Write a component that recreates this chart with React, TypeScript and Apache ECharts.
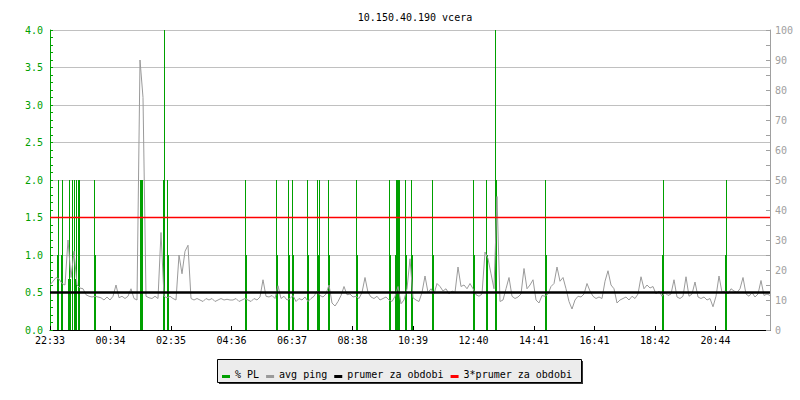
import React, { useEffect, useRef } from 'react';
import * as echarts from 'echarts';

const TITLE = '10.150.40.190 vcera';
const X_LABELS = ['22:33', '00:34', '02:35', '04:36', '06:37', '08:38', '10:39', '12:40', '14:41', '16:41', '18:42', '20:44'];
const X_LABEL_STEP = 121; // minutes between time labels
const SPAN_MIN = 1440; // minutes shown
const Y_LEFT_TICKS = [0, 4, 0.5];
const Y_RIGHT_TICKS = [0, 100, 10];

// avg ping (ms), one sample every 6 minutes
const PING_STEP = 6;
const PING = [
  0.60, 0.65, 0.70, 0.68, 0.62, 0.60, 1.20, 0.70, 1.05, 0.60,
  0.56, 0.55, 0.47, 0.45, 0.44, 0.45, 0.44, 0.43, 0.40, 0.44,
  0.40, 0.45, 0.60, 0.43, 0.45, 0.42, 0.45, 0.55, 0.42, 0.40,
  3.60, 3.10, 0.45, 0.43, 0.42, 0.45, 0.42, 1.30, 0.45, 0.43,
  0.45, 0.42, 0.40, 1.00, 0.75, 1.05, 1.13, 0.42, 0.40, 0.42,
  0.40, 0.38, 0.42, 0.40, 0.42, 0.38, 0.40, 0.42, 0.40, 0.41,
  0.40, 0.40, 0.42, 0.38, 0.40, 0.42, 0.40, 0.38, 0.42, 0.40,
  0.44, 0.67, 0.45, 0.44, 0.46, 0.42, 0.59, 0.42, 0.45, 0.40,
  0.42, 0.46, 0.38, 0.42, 0.40, 0.44, 0.38, 0.42, 0.45, 0.52,
  0.46, 0.44, 0.48, 0.60, 0.36, 0.32, 0.38, 0.46, 0.58, 0.47,
  0.48, 0.44, 0.45, 0.42, 0.50, 0.70, 0.50, 0.44, 0.42, 0.45,
  0.40, 0.42, 0.44, 0.40, 0.38, 0.45, 0.58, 0.35, 0.40, 0.55,
  0.95, 0.43, 0.40, 0.38, 0.50, 0.72, 0.50, 0.55, 0.48, 0.62,
  0.58, 0.52, 0.55, 0.48, 0.52, 0.50, 0.84, 0.58, 0.60, 0.55,
  0.62, 0.55, 0.47, 0.45, 0.48, 1.04, 0.95, 0.75, 0.55, 1.78,
  0.38, 0.40, 0.55, 0.70, 0.45, 0.42, 0.44, 0.48, 0.82, 0.55,
  0.60, 0.67, 0.40, 0.36, 0.46, 0.45, 0.48, 0.58, 0.62, 0.84,
  0.65, 0.70, 0.55, 0.38, 0.28, 0.40, 0.45, 0.44, 0.48, 0.62,
  0.52, 0.45, 0.42, 0.44, 0.42, 0.65, 0.79, 0.60, 0.55, 0.36,
  0.40, 0.42, 0.44, 0.40, 0.45, 0.42, 0.48, 0.71, 0.55, 0.60,
  0.56, 0.58, 0.48, 0.52, 0.45, 0.50, 0.46, 0.48, 0.67, 0.44,
  0.42, 0.45, 0.71, 0.45, 0.48, 0.64, 0.44, 0.42, 0.44, 0.40,
  0.42, 0.31, 0.45, 0.72, 0.50, 0.52, 0.48, 0.55, 0.52, 0.50,
  0.55, 0.70, 0.48, 0.45, 0.50, 0.44, 0.48, 0.66, 0.46, 0.48,
  0.46,
];

// packet loss samples: minute offset and % lost
const PL_TIMES = [
  15, 17, 23, 25, 37, 39, 41, 45, 49, 51, 53, 57, 59, 89, 91,
  181, 183, 185, 227, 229, 235, 237,
  391, 393, 453, 455, 477, 479, 485, 487, 515, 517, 535, 537, 539, 557, 559,
  613, 615, 679, 681, 691, 693, 695, 697, 699, 711, 713, 723, 725,
  765, 767, 847, 849, 873, 875, 891, 893, 991, 993,
  1225, 1227, 1351, 1353,
];
const PL_VALUES = [
  25, 50, 25, 50, 17, 50, 17, 50, 50, 17, 50, 50, 50, 50, 25,
  50, 50, 50, 50, 100, 50, 25,
  50, 25, 50, 25, 50, 25, 50, 25, 50, 25, 50, 25, 50, 50, 25,
  50, 25, 50, 25, 25, 50, 50, 50, 50, 50, 25, 50, 25,
  50, 25, 50, 25, 50, 25, 100, 50, 50, 25,
  25, 50, 25, 50,
];

const PRUMER = 0.5; // average ping over the period
const LEGEND_NAMES = ['% PL', 'avg ping', 'prumer za obdobi', '3*prumer za obdobi'];

const GREEN = '#00a000';
const GREY = '#9a9a9a';
const AXIS_GREY = '#a0a0a0';
const GRID_GREY = '#c0c0c0';
const FONT = "'DejaVu Sans Mono', monospace";
const ICON = 'path://M0,0h0.01v0.01h-0.01z M0,6h8v3h-8z M0,9.99h0.01v0.01h-0.01z';

export default function App() {
  const ref = useRef<HTMLDivElement>(null);

  useEffect(() => {
    if (!ref.current) return;
    const chart = echarts.init(ref.current, undefined, { renderer: 'svg' });
    const option: any = {
      animation: false,
      backgroundColor: '#ffffff',
      title: {
        text: TITLE,
        left: 410,
        top: 7,
        textAlign: 'center',
        textStyle: { fontFamily: FONT, fontSize: 10, fontWeight: 'normal', color: '#000' },
      },
      grid: { left: 50, right: 30, top: 30, bottom: 70, containLabel: false },
      legend: {
        data: LEGEND_NAMES.map((n) => ({ name: n, icon: ICON })),
        left: 222,
        top: 369,
        orient: 'horizontal',
        itemWidth: 8,
        itemHeight: 10,
        itemGap: 7,
        padding: 0,
        selectedMode: false,
        itemStyle: { borderWidth: 0 },
        textStyle: { fontFamily: FONT, fontSize: 10, color: '#000' },
        z: 10,
      },
      graphic: [
        { type: 'rect', z: 0, shape: { x: 219, y: 361, width: 364, height: 23 }, style: { fill: '#333' } },
        { type: 'rect', z: 1, shape: { x: 217.5, y: 359.5, width: 364, height: 23 }, style: { fill: '#ececec', stroke: '#000', lineWidth: 1 } },
      ],
      xAxis: {
        type: 'value',
        min: 0,
        max: SPAN_MIN,
        interval: X_LABEL_STEP,
        axisLine: { show: true, onZero: false, lineStyle: { color: '#000', width: 1 } },
        axisTick: { show: true, inside: true, length: 4, lineStyle: { color: '#000' } },
        splitLine: { show: false },
        axisLabel: {
          color: '#000',
          fontFamily: FONT,
          fontSize: 10,
          margin: 5,
          showMaxLabel: false,
          hideOverlap: false,
          formatter: (v: number) => {
            const i = Math.round(v / X_LABEL_STEP);
            if (Math.abs(v - i * X_LABEL_STEP) > 0.01) return '';
            return X_LABELS[i] ?? '';
          },
        },
      },
      yAxis: [
        {
          type: 'value',
          position: 'left',
          min: Y_LEFT_TICKS[0],
          max: Y_LEFT_TICKS[1],
          interval: Y_LEFT_TICKS[2],
          axisLine: { show: true, lineStyle: { color: GREEN } },
          axisTick: { show: true, inside: true, length: 3, lineStyle: { color: GREEN } },
          minorTick: { show: true, splitNumber: 5, length: 3, lineStyle: { color: GREEN } },
          splitLine: { show: true, lineStyle: { color: GRID_GREY, width: 1 } },
          axisLabel: { color: GREEN, fontFamily: FONT, fontSize: 10, margin: 7, formatter: (v: number) => v.toFixed(1) },
        },
        {
          type: 'value',
          position: 'right',
          min: Y_RIGHT_TICKS[0],
          max: Y_RIGHT_TICKS[1],
          interval: Y_RIGHT_TICKS[2],
          axisLine: { show: true, lineStyle: { color: AXIS_GREY } },
          axisTick: { show: true, inside: true, length: 4, lineStyle: { color: AXIS_GREY } },
          minorTick: { show: true, splitNumber: 2, length: 4, lineStyle: { color: AXIS_GREY } },
          splitLine: { show: false },
          axisLabel: { color: AXIS_GREY, fontFamily: FONT, fontSize: 10, margin: 5 },
        },
      ],
      series: [
        {
          name: '% PL',
          type: 'bar',
          yAxisIndex: 1,
          barWidth: 1,
          data: PL_TIMES.map((t, i) => [t, PL_VALUES[i]]),
          itemStyle: { color: GREEN },
          z: 2,
        },
        {
          name: 'avg ping',
          type: 'line',
          yAxisIndex: 0,
          symbol: 'none',
          data: PING.map((v, i) => [i * PING_STEP, v]),
          lineStyle: { color: GREY, width: 1 },
          itemStyle: { color: GREY },
          z: 3,
        },
        {
          name: 'prumer za obdobi',
          type: 'line',
          yAxisIndex: 0,
          symbol: 'none',
          data: [[0, PRUMER], [SPAN_MIN, PRUMER]],
          lineStyle: { color: '#000', width: 2.5 },
          itemStyle: { color: '#000' },
          z: 4,
        },
        {
          name: '3*prumer za obdobi',
          type: 'line',
          yAxisIndex: 0,
          symbol: 'none',
          data: [[0, 3 * PRUMER], [SPAN_MIN, 3 * PRUMER]],
          lineStyle: { color: '#ff0000', width: 1.5 },
          itemStyle: { color: '#ff0000' },
          z: 5,
        },
      ],
    };
    chart.setOption(option);
    return () => chart.dispose();
  }, []);

  return (
    <div
      ref={ref}
      style={{ position: 'absolute', left: 0, top: 0, width: 800, height: 400, background: '#fff' }}
    />
  );
}
